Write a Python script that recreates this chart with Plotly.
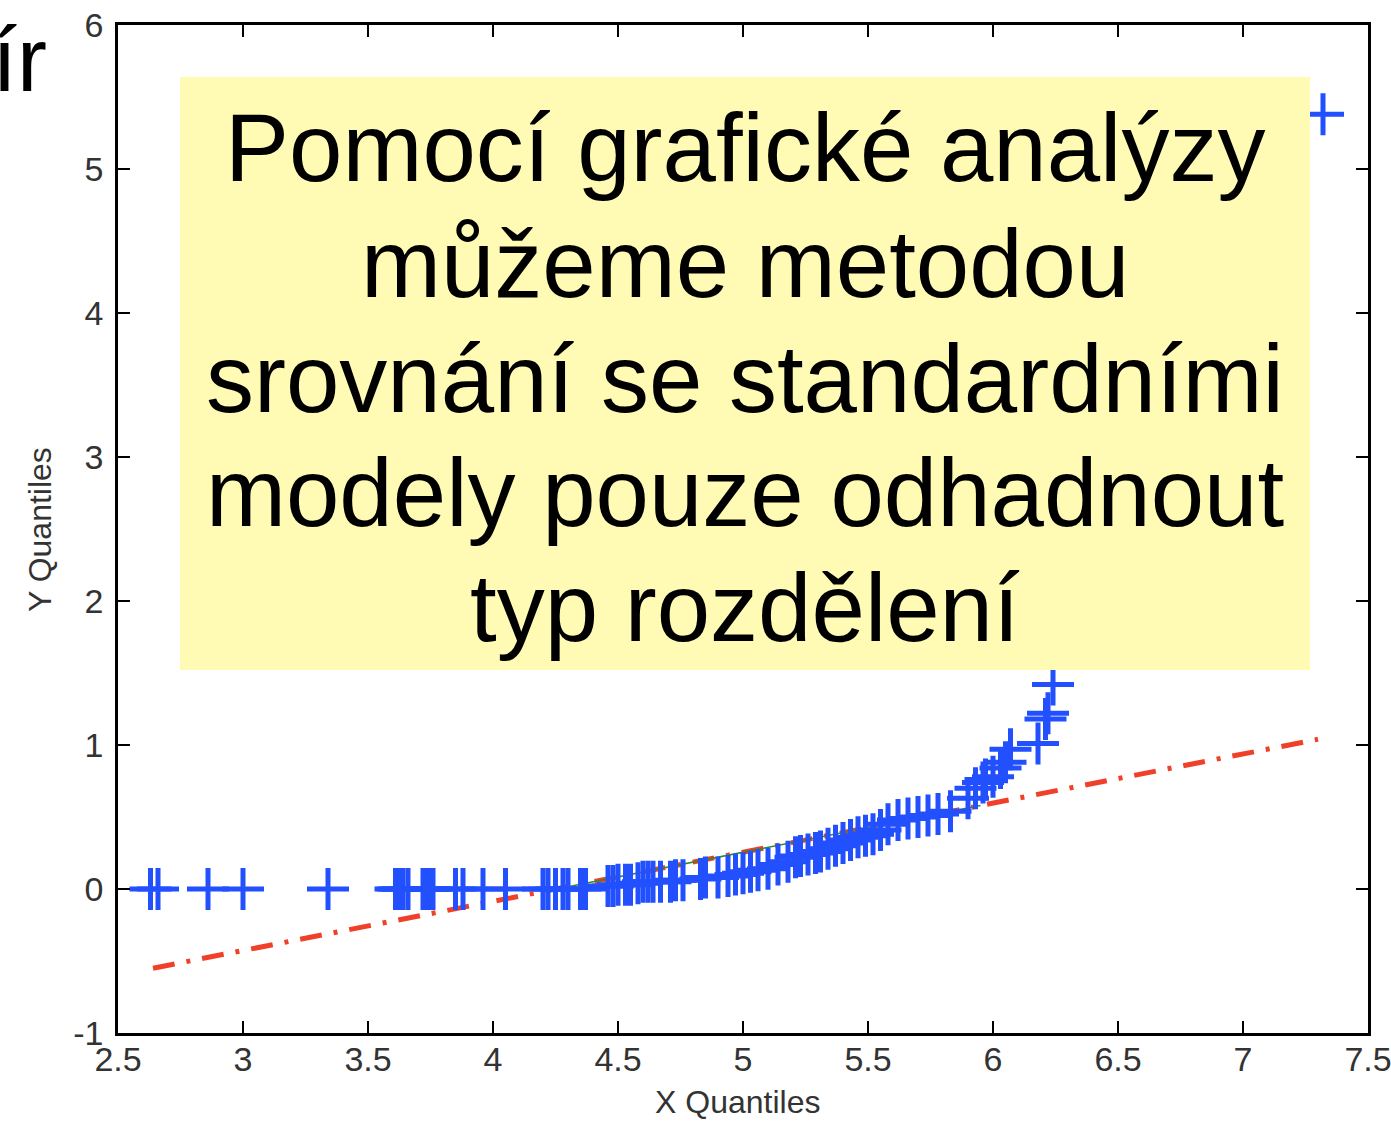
import plotly.graph_objects as go

# ---- data ----
qx = [2.63, 2.66, 2.86, 3.00, 3.34, 3.61, 3.62, 3.63, 3.64, 3.66, 3.72, 3.73, 3.74, 3.75, 3.76,
      3.85, 3.88, 3.96, 4.05, 4.20, 4.22, 4.25, 4.28, 4.30, 4.35, 4.37,
      4.46, 4.48, 4.50, 4.53, 4.55, 4.58, 4.60, 4.62, 4.64, 4.67, 4.71, 4.73, 4.76, 4.83, 4.85,
      4.90, 4.94, 4.97, 5.00, 5.03, 5.06, 5.10, 5.14, 5.18, 5.21, 5.23, 5.26, 5.29, 5.31, 5.34,
      5.37, 5.40, 5.43, 5.46, 5.49, 5.52, 5.55, 5.58, 5.62, 5.66, 5.70, 5.74, 5.78, 5.83,
      5.90, 5.93, 5.96, 5.97, 6.00, 6.03, 6.05, 6.07, 6.18, 6.21, 6.22, 6.24, 7.32]
qy = [0.0] * 26 + [
      0.02, 0.02, 0.03, 0.03, 0.03, 0.04, 0.05, 0.05, 0.05, 0.05, 0.05, 0.06, 0.06, 0.07, 0.08,
      0.08, 0.09, 0.10, 0.11, 0.12, 0.13, 0.14, 0.17, 0.19, 0.22, 0.23, 0.24, 0.25, 0.26, 0.28,
      0.30, 0.32, 0.34, 0.36, 0.37, 0.38, 0.41, 0.45, 0.48, 0.49, 0.50, 0.51, 0.52, 0.54,
      0.63, 0.70, 0.74, 0.76, 0.78, 0.84, 0.88, 0.97, 1.01, 1.18, 1.22, 1.42, 5.38]

fit_x = [2.64, 7.30]
fit_y = [-0.55, 1.04]
iqr_x = [4.30, 5.95]
iqr_y = [-0.55 + (1.04 + 0.55) / (7.30 - 2.64) * (4.30 - 2.64),
         -0.55 + (1.04 + 0.55) / (7.30 - 2.64) * (5.95 - 2.64)]

x_ticks = [2.5, 3, 3.5, 4, 4.5, 5, 5.5, 6, 6.5, 7, 7.5]
y_ticks = [-1, 0, 1, 2, 3, 4, 5, 6]

box_lines = ["Pomocí grafické analýzy", "můžeme metodou", "srovnání se standardními",
             "modely pouze odhadnout", "typ rozdělení"]
title_fragment = "ír"
x_title = "X Quantiles"
y_title = "Y Quantiles"

# ---- layout geometry ----
W, H = 1391, 1121
L, R, T, B = 118, 23, 25, 88
PW, PH = W - L - R, H - T - B


def pxx(px):
    return (px - L) / PW


def pxy(py):
    return (H - B - py) / PH


tick_font = dict(family="Liberation Sans, Arial, sans-serif", size=34, color="#333333")
text_font = "Liberation Sans, Arial, Helvetica, sans-serif"

fig = go.Figure()
fig.add_trace(go.Scatter(x=fit_x, y=fit_y, mode="lines",
                         line=dict(color="#F0402A", width=5, dash="22px,12px,4px,12px"),
                         hoverinfo="skip"))
fig.add_trace(go.Scatter(x=iqr_x, y=iqr_y, mode="lines",
                         line=dict(color="#2E8B2E", width=1.5), hoverinfo="skip"))
fig.add_trace(go.Scatter(x=qx, y=qy, mode="markers",
                         marker=dict(symbol="cross-thin", size=30,
                                     line=dict(color="#2350FF", width=5),
                                     color="#2350FF")))

axis_common = dict(showgrid=False, zeroline=False, showline=True, linecolor="black",
                   linewidth=2.5, mirror="ticks", ticks="inside", ticklen=12,
                   tickwidth=2, tickcolor="black", tickfont=tick_font,
                   ticklabeloverflow="allow")

fig.update_xaxes(range=[2.5, 7.5], tickvals=x_ticks,
                 ticktext=[f"{v:g}" for v in x_ticks], ticklabelstandoff=-6, **axis_common)
fig.update_yaxes(range=[-1, 6], tickvals=y_ticks,
                 ticktext=[f"{v:g}" for v in y_ticks], ticklabelstandoff=5, **axis_common)

shapes = [dict(type="rect", xref="paper", yref="paper",
               x0=pxx(180), x1=pxx(1310), y0=pxy(670), y1=pxy(77),
               fillcolor="#FFFAB4", line=dict(width=0), layer="above")]

annotations = []
line_centers = [147, 263, 378, 492, 607]
for txt, cy in zip(box_lines, line_centers):
    annotations.append(dict(text=txt, xref="paper", yref="paper", x=pxx(745), y=pxy(cy),
                            xanchor="center", yanchor="middle", showarrow=False,
                            font=dict(family=text_font, size=96, color="black")))
annotations.append(dict(text=title_fragment, xref="paper", yref="paper", x=pxx(49), y=pxy(60),
                        xanchor="right", yanchor="middle", showarrow=False,
                        font=dict(family=text_font, size=90, color="black")))
annotations.append(dict(text=x_title, xref="paper", yref="paper", x=pxx(737), y=pxy(1102),
                        xanchor="center", yanchor="middle", showarrow=False,
                        font=dict(family=tick_font["family"], size=32, color="#333333")))
annotations.append(dict(text=y_title, xref="paper", yref="paper", x=pxx(40), y=pxy(530),
                        xanchor="center", yanchor="middle", showarrow=False, textangle=-90,
                        font=dict(family=tick_font["family"], size=32, color="#333333")))

fig.update_layout(width=W, height=H, margin=dict(l=L, r=R, t=T, b=B, autoexpand=False),
                  paper_bgcolor="white", plot_bgcolor="white", showlegend=False,
                  shapes=shapes, annotations=annotations)

fig.write_html("out.html", config={"displayModeBar": False},
               post_script="document.body.style.margin='0';document.body.style.overflow='hidden';")
